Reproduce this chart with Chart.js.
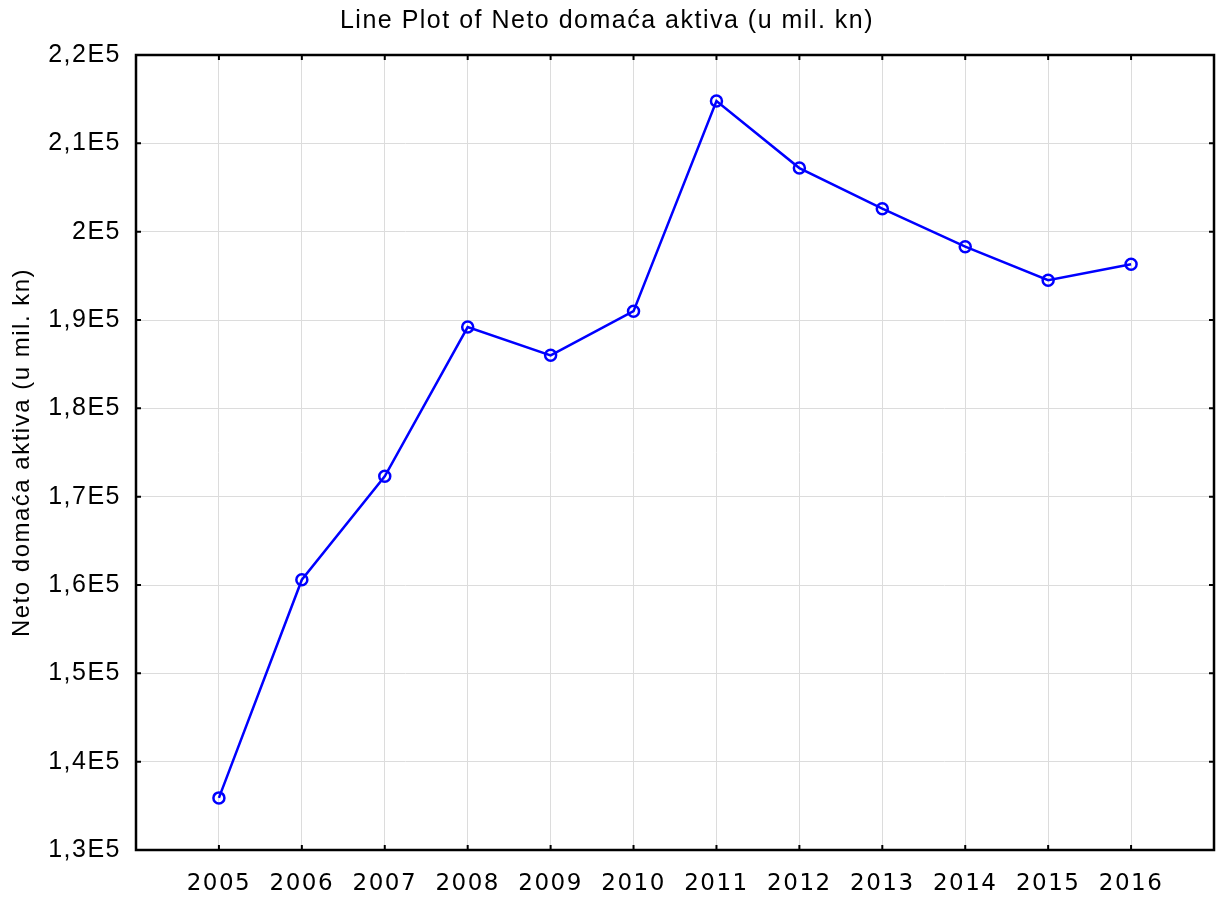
<!DOCTYPE html>
<html>
<head>
<meta charset="utf-8">
<script src="https://cdn.jsdelivr.net/npm/chart.js@4.4.0/dist/chart.umd.min.js"></script>
<style>
  html, body { margin: 0; padding: 0; background: #fff; }
  #wrap { width: 1217px; height: 897px; }
</style>
</head>
<body>
<div id="wrap"><canvas id="lineChart"></canvas></div>
<script>
// data
const years = [2005, 2006, 2007, 2008, 2009, 2010, 2011, 2012, 2013, 2014, 2015, 2016];
const netoAktiva = [135900, 160600, 172300, 189200, 186000, 191000, 214800, 207200, 202600, 198300, 194500, 196300];
const yTicks = [130000, 140000, 150000, 160000, 170000, 180000, 190000, 200000, 210000, 220000];

// format like 2,2E5
function sciLabel(v) {
    return String(+(v / 1e5).toFixed(2)).replace('.', ',') + 'E5';
}

// frame round the plot plus small inward ticks
const framePlugin = {
    id: 'frame',
    beforeDraw: function (chart) {
        chart.ctx.letterSpacing = '1.5px';
    },
    afterDatasetsDraw: function (chart) {
        const ctx = chart.ctx;
        const a = chart.chartArea;
        const xs = chart.scales.x;
        const ys = chart.scales.y;
        ctx.save();
        ctx.strokeStyle = '#000';
        ctx.lineWidth = 2.5;
        ctx.strokeRect(a.left, a.top, a.right - a.left, a.bottom - a.top);
        ctx.lineWidth = 2;
        ctx.beginPath();
        years.forEach(function (yr) {
            const px = xs.getPixelForValue(yr);
            ctx.moveTo(px, a.bottom); ctx.lineTo(px, a.bottom - 5);
            ctx.moveTo(px, a.top); ctx.lineTo(px, a.top + 5);
        });
        yTicks.forEach(function (v) {
            const py = ys.getPixelForValue(v);
            ctx.moveTo(a.left, py); ctx.lineTo(a.left + 5, py);
            ctx.moveTo(a.right, py); ctx.lineTo(a.right - 5, py);
        });
        ctx.stroke();
        ctx.restore();
    }
};

const ctx = document.getElementById('lineChart').getContext('2d');
const chart = new Chart(ctx, {
    type: 'line',
    data: {
        datasets: [{
            label: 'Neto domaća aktiva (u mil. kn)',
            data: years.map(function (y, i) { return { x: y, y: netoAktiva[i] }; }),
            borderColor: '#0000ff',
            borderWidth: 2.5,
            backgroundColor: '#ffffff',
            pointRadius: 5.5,
            pointBorderWidth: 2.5,
            pointBorderColor: '#0000ff',
            pointBackgroundColor: 'rgba(255,255,255,0)',
            tension: 0,
            fill: false
        }]
    },
    options: {
        responsive: true,
        maintainAspectRatio: false,
        animation: false,
        layout: { autoPadding: false, padding: { left: 0, right: 3, top: 0, bottom: 0 } },
        plugins: {
            legend: { display: false },
            tooltip: { enabled: false },
            title: {
                display: true,
                text: 'Line Plot of Neto domaća aktiva (u mil. kn)',
                color: '#000',
                font: { family: 'Liberation Sans', size: 25, weight: 'normal' },
                padding: { top: 6, bottom: 19 }
            }
        },
        scales: {
            x: {
                type: 'linear',
                min: 2004,
                max: 2017,
                afterFit: function (scale) {
                    scale.height = 47;
                    scale.paddingLeft = 0;
                    scale.paddingRight = 0;
                },
                afterBuildTicks: function (scale) {
                    scale.ticks = years.map(function (v) { return { value: v }; });
                },
                ticks: {
                    color: '#000',
                    font: { family: 'DejaVu Sans', size: 23 },
                    padding: 20,
                    maxRotation: 0,
                    autoSkip: false,
                    callback: function (v) { return String(v); }
                },
                grid: { color: '#dcdcdc', lineWidth: 1, drawTicks: false },
                border: { display: false }
            },
            y: {
                min: 130000,
                max: 220000,
                afterFit: function (scale) { scale.width = 136; },
                afterBuildTicks: function (scale) {
                    scale.ticks = yTicks.map(function (v) { return { value: v }; });
                },
                title: {
                    display: true,
                    text: 'Neto domaća aktiva (u mil. kn)',
                    color: '#000',
                    font: { family: 'Liberation Sans', size: 24 },
                    padding: { top: 8, bottom: 0 }
                },
                ticks: {
                    color: '#000',
                    font: { family: 'Liberation Sans', size: 25 },
                    padding: 15,
                    callback: function (v) { return sciLabel(v); }
                },
                grid: { color: '#dcdcdc', lineWidth: 1, drawTicks: false },
                border: { display: false }
            }
        }
    },
    plugins: [framePlugin]
});
</script>
</body>
</html>
